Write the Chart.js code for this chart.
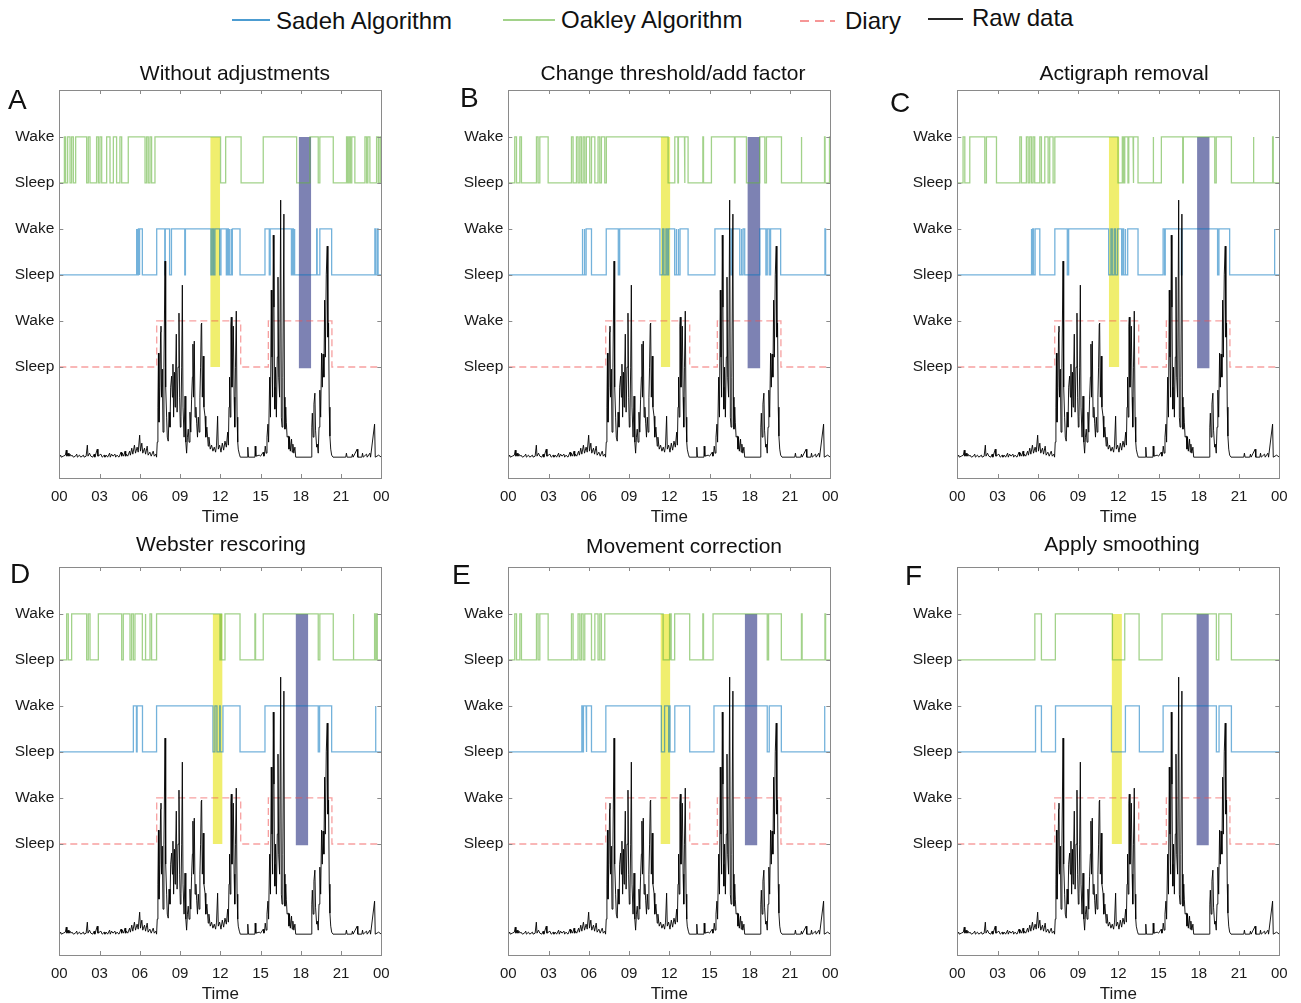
<!DOCTYPE html>
<html>
<head>
<meta charset="utf-8">
<script src="https://cdn.jsdelivr.net/npm/chart.js@4.4.1/dist/chart.umd.min.js"></script>
<style>
  body { margin: 0; width: 1301px; height: 1003px; overflow: hidden; background: #fff;
         font-family: "Liberation Sans", Arial, sans-serif; color: #111; position: relative; }
  canvas { position: absolute; }
  .txt { position: absolute; white-space: nowrap; }
  .swatch { position: absolute; height: 2px; }
</style>
</head>
<body>
<script>
// ==========================================
// DATA
// ==========================================
const HOUR_TICKS = [0, 3, 6, 9, 12, 15, 18, 21, 24];
const LEVEL_TICKS = [0, 1, 2, 3, 4, 5];
const LEVEL_LABELS = ['Sleep', 'Wake', 'Sleep', 'Wake', 'Sleep', 'Wake'];

const panelLetters = ['A', 'B', 'C', 'D', 'E', 'F'];
const panelTitles = ['Without adjustments', 'Change threshold/add factor', 'Actigraph removal',
                     'Webster rescoring', 'Movement correction', 'Apply smoothing'];

// diary wake periods (hours), same for every panel
const diaryWake = [[7.26, 13.52], [15.58, 20.32]];

// Oakley algorithm: wake intervals (hours)
const oakleyA = [[0.38,0.47],[0.62,0.8],[0.92,1.05],[1.22,2.04],[2.16,2.29],[2.78,2.91],[3.03,3.16],[3.53,3.78],[4.03,4.27],[4.52,4.65],[5.14,6.39],[6.51,6.63],[6.76,6.88],[7.13,12.02],[12.4,13.55],[15.2,17.69],[18.68,19.3],[19.42,20.42],[21.41,21.5],[21.6,21.7],[21.8,22.03],[22.78,22.9],[23.0,23.15],[23.65,23.78],[23.9,24]];
const oakleyB = [[0.48,0.61],[0.86,0.98],[2.1,2.22],[2.35,2.97],[4.71,4.83],[5.08,5.2],[5.33,5.45],[5.58,5.7],[5.82,6.07],[6.2,6.45],[6.69,6.82],[6.94,7.19],[7.31,11.91],[12.41,12.64],[12.68,13.13],[13.17,13.4],[14.5,14.55],[15.14,16.86],[16.9,17.75],[18.74,19.12],[19.24,20.36],[21.83,21.87],[23.57,23.61],[23.94,24]];
const oakleyC = [[0.43,0.56],[0.93,2.05],[2.17,2.92],[4.66,4.78],[5.15,5.28],[5.4,5.53],[5.65,5.77],[6.15,6.27],[6.52,6.77],[6.89,7.14],[7.27,11.98],[12.3,12.4],[12.48,12.72],[12.78,13.1],[13.15,13.47],[14.59,14.63],[15.21,16.8],[16.85,19.19],[19.3,20.43],[22.06,22.1],[23.5,23.55]];
const oakleyD = [[0.55,0.67],[0.92,2.04],[2.16,2.29],[2.91,4.65],[4.77,5.27],[5.39,5.52],[5.64,6.19],[6.39,6.45],[6.76,6.88],[7.25,11.97],[12.05,12.1],[12.35,13.47],[14.58,14.63],[15.2,19.3],[19.42,20.42],[21.9,21.95],[23.5,23.55],[23.65,23.7]];
const oakleyE = [[0.48,0.61],[0.86,0.98],[2.1,2.22],[2.35,2.97],[4.71,4.83],[5.2,5.33],[5.45,5.58],[5.7,6.2],[6.45,6.69],[6.82,6.94],[7.19,11.54],[12.02,12.06],[12.1,12.14],[12.4,13.52],[14.5,14.55],[15.26,19.3],[19.4,20.35],[21.85,21.9],[23.6,23.65]];
const oakleyF = [[5.78,6.27],[7.31,11.56],[12.48,13.55],[15.26,19.31],[19.49,20.43]];

// Sadeh algorithm: wake intervals (hours)
const sadehA = [[5.74,5.78],[5.82,5.86],[5.9,5.95],[6.0,6.19],[7.26,7.86],[7.9,8.22],[8.36,9.35],[9.4,11.3],[11.4,11.5],[11.6,11.95],[12.05,12.45],[12.52,12.6],[12.66,12.72],[12.8,12.85],[12.9,13.47],[15.33,15.65],[15.72,17.3],[17.38,17.45],[17.5,17.56],[19.18,19.22],[19.42,20.3],[23.52,23.56],[23.68,23.76]];
const sadehB = [[5.5,5.55],[5.65,5.7],[5.8,6.2],[7.3,8.2],[8.3,11.3],[11.5,11.6],[11.75,11.85],[11.95,12.4],[12.5,12.55],[12.65,12.7],[12.8,13.4],[15.4,16.6],[16.7,17.25],[17.35,17.4],[17.5,17.62],[18.75,19.2],[19.3,19.45],[19.55,20.3],[23.6,23.65]];
const sadehC = [[5.5,5.55],[5.62,5.68],[5.8,6.15],[7.27,8.2],[8.3,11.28],[11.45,11.55],[11.7,11.8],[11.95,12.25],[12.35,12.4],[12.5,12.55],[12.7,13.47],[15.34,15.45],[15.5,16.7],[16.75,19.4],[19.5,20.3],[23.62,23.67]];
const sadehD = [[5.52,5.75],[5.8,6.2],[7.25,11.45],[11.6,11.75],[11.95,12.0],[12.2,13.47],[15.33,19.3],[19.4,20.3],[23.55,23.6]];
const sadehE = [[5.48,5.53],[5.6,5.8],[5.85,6.2],[7.27,11.41],[11.65,11.95],[12.0,12.02],[12.04,12.06],[12.41,13.52],[15.33,19.3],[19.45,20.35],[23.55,23.6]];
const sadehF = [[5.83,6.27],[7.32,11.49],[12.53,13.57],[15.34,19.31],[19.51,20.43]];

// highlighted periods (hours): yellow and blue bars per panel
const yellowBars = [[11.25,11.99],[11.36,12.08],[11.29,12.08],[11.43,12.17],[11.34,12.08],[11.5,12.27]];
const blueBars = [[17.84,18.78],[17.82,18.79],[17.87,18.81],[17.61,18.56],[17.62,18.57],[17.82,18.75]];

// raw actigraphy: [hour, activity counts]
const rawActivity = [
  [0,0],[0.1,2],[0.15,0],[0.3,1],[0.45,2],[0.52,7],[0.57,1],[0.65,4],[0.72,1],[0.8,3],[0.88,1],[0.95,2],[1.05,0],[1.2,1],[1.3,3],[1.35,0],[1.5,2],[1.6,0],
  [1.8,2],[1.85,0],[2.0,1],[2.09,12],[2.14,1],[2.25,4],[2.35,1],[2.5,0],[2.6,3],[2.65,0],[2.83,8],[2.88,1],[3.1,3],[3.2,0],[3.35,2],[3.4,0],[3.5,2],[3.6,0],[3.75,4],[3.8,0],[3.9,3],[4.0,1],
  [4.15,3],[4.2,0],[4.3,2],[4.45,0],[4.6,5],[4.65,1],[4.7,4],[4.8,1],[4.9,6],[4.95,1],[5.0,3],[5.1,1],[5.24,6],[5.3,2],[5.4,9],[5.48,3],[5.6,12],[5.68,4],[5.8,10],[5.88,5],
  [5.99,22],[6.05,6],[6.15,14],[6.22,4],[6.35,9],[6.43,3],[6.55,11],[6.62,2],[6.75,5],[6.85,1],[7.0,6],[7.08,1],[7.2,3],
  [7.25,0],[7.3,15],[7.35,50],[7.39,104],[7.43,35],[7.5,70],[7.55,125],[7.58,131],[7.62,60],[7.68,88],[7.73,25],[7.8,90],
  [7.88,196],[7.93,70],[8.0,40],[8.05,20],[8.12,16],[8.18,45],[8.25,30],[8.3,70],[8.37,81],[8.43,60],[8.47,93],[8.52,40],
  [8.58,85],[8.63,50],[8.67,85],[8.72,123],[8.78,45],[8.85,90],[8.92,144],[8.97,60],[9.02,30],[9.07,41],[9.12,90],[9.17,172],
  [9.22,50],[9.3,20],[9.37,61],[9.43,15],[9.49,4],[9.55,20],[9.61,28],[9.67,15],[9.74,45],[9.8,25],[9.86,58],[9.92,80],
  [9.96,113],[10.0,60],[10.06,116],[10.12,40],[10.18,50],[10.24,34],[10.3,20],[10.36,40],[10.42,25],[10.48,60],[10.53,90],
  [10.58,133],[10.61,134],[10.66,60],[10.73,101],[10.78,50],[10.86,41],[10.92,20],[11.0,30],[11.1,11],[11.15,20],[11.25,8],
  [11.35,12],[11.45,6],[11.55,10],[11.65,5],[11.72,12],[11.8,41],[11.85,8],[11.95,12],[12.05,5],[12.15,14],[12.25,7],
  [12.35,16],[12.45,10],[12.55,25],[12.6,12],[12.65,50],[12.69,80],[12.74,40],[12.79,131],[12.82,140],[12.87,70],[12.92,100],
  [12.97,131],[13.03,60],[13.08,30],[13.13,90],[13.19,146],[13.25,40],[13.3,15],[13.34,8],[13.42,3],[13.49,0],
  [14.0,0],[14.05,10],[14.1,0],[14.58,0],[14.6,11],[14.65,1],[14.9,2],[15.0,1],[15.2,5],[15.25,1],
  [15.3,3],[15.35,11],[15.42,4],[15.48,20],[15.55,33],[15.6,15],[15.68,80],[15.74,40],[15.8,167],[15.85,100],[15.9,60],
  [15.95,222],[16.0,150],[16.04,70],[16.07,48],[16.12,90],[16.18,40],[16.25,100],[16.3,180],[16.35,80],[16.42,60],[16.5,257],
  [16.55,40],[16.6,30],[16.66,80],[16.74,243],[16.78,60],[16.82,28],[16.88,50],[16.92,35],[16.98,20],[17.07,21],[17.12,8],
  [17.16,20],[17.22,6],[17.31,18],[17.36,5],[17.41,13],[17.48,4],[17.56,10],[17.62,0],
  [18.78,0],[18.82,30],[18.86,44],[18.92,20],[18.98,53],[19.05,64],[19.1,27],[19.18,10],[19.23,13],[19.3,4],[19.36,30],
  [19.42,67],[19.48,40],[19.55,104],[19.6,70],[19.66,103],[19.72,80],[19.78,157],[19.83,100],[19.9,183],[19.97,211],
  [20.02,120],[20.07,134],[20.12,50],[20.17,21],[20.23,8],[20.3,2],[20.4,0],
  [21.35,0],[21.4,4],[21.45,0],[21.8,0],[21.85,3],[21.9,0],[22.2,8],[22.25,0],[22.55,0],[22.6,4],[22.65,0],[22.9,3],
  [22.95,0],[23.15,4],[23.2,0],[23.5,33],[23.55,0],[23.8,2],[24,0]
];

const oakleyByPanel = [oakleyA, oakleyB, oakleyC, oakleyD, oakleyE, oakleyF];
const sadehByPanel = [sadehA, sadehB, sadehC, sadehD, sadehE, sadehF];

// ==========================================
// LAYOUT + STYLE
// ==========================================
const FONT = '"Liberation Sans", Arial, sans-serif';
const TEXT = '#1a1a1a';
const COL_LEFT = [0, 449.2, 898.4];
const ROW_TOP = [70, 547];
const RAW_BASE = -1.96;       // raw data baseline in level units
const COUNTS_PER_LEVEL = 46;  // counts per one Sleep/Wake step

const titlePos = [[235, 72], [673, 72], [1124, 72], [221, 543], [684, 545], [1122, 543]];
const letterPos = [[8, 100], [460, 98], [890, 103], [10, 574], [452, 575], [905, 576]];

const COLORS = {
  sadeh: 'rgba(0,114,189,0.55)',
  oakley: 'rgba(100,180,60,0.6)',
  diary: 'rgba(240,80,80,0.55)',
  raw: 'rgba(0,0,0,0.9)',
  yellow: '#f0ee6e',
  blue: '#7d82b3'
};

Chart.defaults.font.family = FONT;
Chart.defaults.color = TEXT;

function addText(str, left, centerY, size, extra) {
  const d = document.createElement('div');
  d.className = 'txt';
  d.textContent = str;
  d.style.fontSize = size + 'px';
  d.style.lineHeight = size + 'px';
  d.style.top = (centerY - size / 2) + 'px';
  d.style.left = left + 'px';
  if (extra) Object.assign(d.style, extra);
  document.body.appendChild(d);
  return d;
}

// ---- legend (HTML) ----
const legendItems = [
  { label: 'Sadeh Algorithm', color: 'rgba(0,114,189,0.7)', x0: 232, x1: 270, y: 20, tx: 276, ty: 21 },
  { label: 'Oakley Algorithm', color: 'rgba(100,180,60,0.6)', x0: 503, x1: 555, y: 20, tx: 561, ty: 20 },
  { label: 'Diary', color: 'rgba(240,80,80,0.6)', x0: 800, x1: 835, y: 21, tx: 845, ty: 21, dashed: true },
  { label: 'Raw data', color: 'rgba(0,0,0,0.85)', x0: 928, x1: 963, y: 19, tx: 972, ty: 18 }
];
legendItems.forEach(it => {
  const s = document.createElement('div');
  s.className = 'swatch';
  s.style.left = it.x0 + 'px';
  s.style.width = (it.x1 - it.x0) + 'px';
  s.style.top = (it.y - 1) + 'px';
  s.style.background = it.dashed
    ? `repeating-linear-gradient(90deg, ${it.color} 0 9px, transparent 9px 15px)`
    : it.color;
  document.body.appendChild(s);
  addText(it.label, it.tx, it.ty, 24);
});

// ---- helpers ----
function stepLine(intervals, low, high) {
  const pts = [{ x: 0, y: low }];
  intervals.forEach(([a, b]) => {
    pts.push({ x: a, y: low }, { x: a, y: high }, { x: b, y: high }, { x: b, y: low });
  });
  pts.push({ x: 24, y: low });
  return pts;
}

const rawPoints = rawActivity.map(([h, c]) => ({ x: h, y: RAW_BASE + c / COUNTS_PER_LEVEL }));

// box round the plot + inward tick marks
const frameTicks = {
  id: 'frameTicks',
  afterDraw(chart) {
    const { ctx, chartArea: a, scales: { x, y } } = chart;
    ctx.save();
    ctx.strokeStyle = '#8a8a8a';
    ctx.lineWidth = 1;
    ctx.strokeRect(Math.round(a.left) + 0.5, Math.round(a.top) + 0.5,
                   Math.round(a.width), Math.round(a.height));
    ctx.beginPath();
    HOUR_TICKS.forEach(h => {
      const px = Math.round(x.getPixelForValue(h)) + 0.5;
      ctx.moveTo(px, a.bottom); ctx.lineTo(px, a.bottom - 4);
      ctx.moveTo(px, a.top); ctx.lineTo(px, a.top + 4);
    });
    LEVEL_TICKS.forEach(v => {
      const py = Math.round(y.getPixelForValue(v)) + 0.5;
      ctx.moveTo(a.left, py); ctx.lineTo(a.left + 4, py);
      ctx.moveTo(a.right, py); ctx.lineTo(a.right - 4, py);
    });
    ctx.stroke();
    ctx.restore();
  }
};

// ==========================================
// PANELS
// ==========================================
panelTitles.forEach((title, i) => {
  const col = i % 3, row = Math.floor(i / 3);
  const canvas = document.createElement('canvas');
  canvas.width = 400;
  canvas.height = 458;
  canvas.style.left = COL_LEFT[col] + 'px';
  canvas.style.top = ROW_TOP[row] + 'px';
  document.body.appendChild(canvas);

  addText(title, titlePos[i][0] - 250, titlePos[i][1], 21, { width: '500px', textAlign: 'center' });
  addText(panelLetters[i], letterPos[i][0], letterPos[i][1], 28);

  const [y0, y1] = yellowBars[i];
  const [b0, b1] = blueBars[i];

  new Chart(canvas, {
    type: 'line',
    data: {
      datasets: [
        { label: 'Raw data', data: rawPoints, borderColor: COLORS.raw, borderWidth: 1, order: 0 },
        { label: 'Diary', data: stepLine(diaryWake, 0, 1), borderColor: COLORS.diary, borderWidth: 1.3,
          borderDash: [7, 4], order: 1 },
        { label: 'Sadeh Algorithm', data: stepLine(sadehByPanel[i], 2, 3), borderColor: COLORS.sadeh,
          borderWidth: 1.3, order: 1 },
        { label: 'Oakley Algorithm', data: stepLine(oakleyByPanel[i], 4, 5), borderColor: COLORS.oakley,
          borderWidth: 1.3, order: 1 },
        { label: 'yellow', data: [{ x: y0, y: 5 }, { x: y1, y: 5 }], borderWidth: 0,
          backgroundColor: COLORS.yellow, fill: { value: 0 }, order: 5 },
        { label: 'blue', data: [{ x: b0, y: 5 }, { x: b1, y: 5 }], borderWidth: 0,
          backgroundColor: COLORS.blue, fill: { value: -0.03 }, order: 5 }
      ]
    },
    options: {
      responsive: false,
      animation: false,
      layout: { padding: { top: 20, right: 18.7, left: 0, bottom: 0 } },
      elements: { point: { radius: 0 }, line: { tension: 0 } },
      plugins: { legend: { display: false }, tooltip: { enabled: false } },
      scales: {
        x: {
          type: 'linear', min: 0, max: 24,
          grid: { display: false, drawTicks: false },
          border: { display: false },
          ticks: { padding: 10, font: { size: 15 }, color: TEXT, maxRotation: 0, autoSkip: false,
                   callback: v => String(v % 24).padStart(2, '0') },
          afterBuildTicks: s => { s.ticks = HOUR_TICKS.map(v => ({ value: v })); },
          afterFit: s => { s.height = 50; },
          title: { display: true, text: 'Time', font: { size: 17 }, color: TEXT, padding: { top: 0, bottom: 0 } }
        },
        y: {
          min: -2.413, max: 6.02,
          grid: { display: false, drawTicks: false },
          border: { display: false },
          ticks: { padding: 5, font: { size: 15.5 }, color: TEXT,
                   callback: v => LEVEL_LABELS[v] },
          afterBuildTicks: s => { s.ticks = LEVEL_TICKS.map(v => ({ value: v })); },
          afterFit: s => { s.width = 59.3; }
        }
      }
    },
    plugins: [frameTicks]
  });
});
</script>
</body>
</html>
